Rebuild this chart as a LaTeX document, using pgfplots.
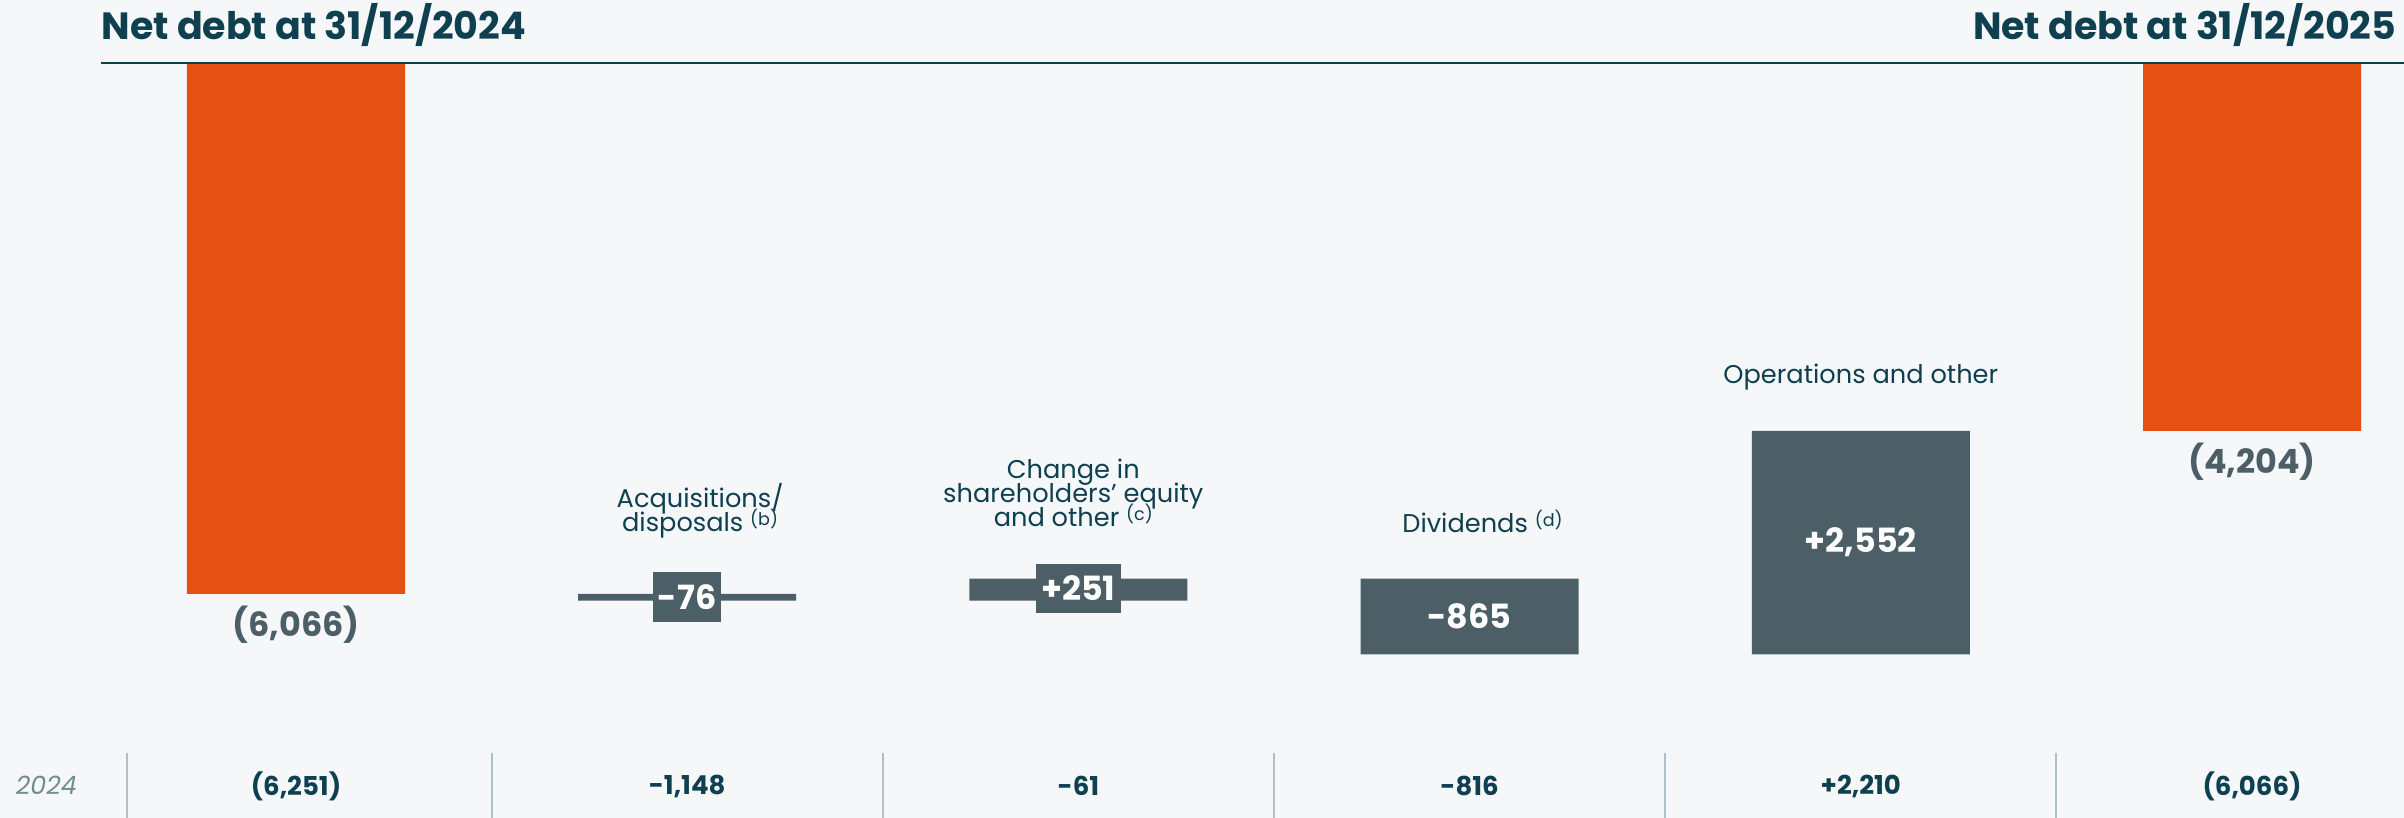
\documentclass[border=0pt]{standalone}
\usepackage{fontspec}
\setmainfont{Poppins}
\usepackage{pgfplots}
\pgfplotsset{compat=1.18}
\definecolor{bgc}{HTML}{F5F7F9}
\definecolor{orng}{HTML}{E55013}
\definecolor{slate}{HTML}{4C5F66}
\definecolor{dteal}{HTML}{0E4050}
\definecolor{sepc}{HTML}{AFC0C8}
\definecolor{yrc}{HTML}{718B91}
\newcommand\lblfont{\fontsize{7.3}{6.9}\selectfont\lineskiplimit=-20pt\lineskip=0pt}
\newcommand\note[1]{\raisebox{1.9pt}{\fontsize{5}{5}\selectfont(#1)}}
\begin{document}
\begin{tikzpicture}
\fill[bgc] (0,0) rectangle (240.4mm,81.8mm);
\begin{axis}[
  at={(0,0)}, anchor=south west,
  width=240.4mm, height=81.8mm, scale only axis,
  xmin=-0.7566, xmax=5.3885, ymin=-8625, ymax=719.7,
  axis lines=none, xtick=\empty, ytick=\empty, clip=false,
  ybar stacked, bar width=0.5573,
]
% invisible base of the floating bars
\addplot[draw=none, fill=none, forget plot] coordinates {(0,0) (1,-6066) (2,-5891) (3,-5891) (4,-4204) (5,0)};
% net debt (orange)
\addplot[draw=none, fill=orng] coordinates {(0,-6066) (1,0) (2,0) (3,0) (4,0) (5,-4204)};
% variations (slate)
\addplot[draw=none, fill=slate] coordinates {(0,0) (1,-76) (2,-251) (3,-865) (4,-2552) (5,0)};

% anchor points for the annotations (drawn after the axis, on top of the bars)
\coordinate (ruleL) at (axis cs:-0.4985,0);
\coordinate (ruleR) at (axis cs:5.3885,0);
\coordinate (titL) at (axis cs:-0.4985,263);
\coordinate (titR) at (axis cs:5.3707,263);
\coordinate (endA) at (axis cs:0,-6420);
\coordinate (endB) at (axis cs:5,-4558);
\coordinate (v1) at (axis cs:1,-6100);
\coordinate (v2) at (axis cs:2,-6003);
\coordinate (v3) at (axis cs:3,-6323);
\coordinate (v4) at (axis cs:4,-5480);
\coordinate (c1) at (axis cs:1.033,-5440);
\coordinate (c2) at (axis cs:1.987,-5310);
\coordinate (c3) at (axis cs:3.033,-5369);
\coordinate (c4) at (axis cs:4.0,-3656);
\coordinate (yr) at (axis cs:-0.638,-8248);
\coordinate (s0t) at (axis cs:-0.432,-7882); \coordinate (s0b) at (axis cs:-0.432,-8625);
\coordinate (s1t) at (axis cs:0.5,-7882);   \coordinate (s1b) at (axis cs:0.5,-8625);
\coordinate (s2t) at (axis cs:1.5,-7882);   \coordinate (s2b) at (axis cs:1.5,-8625);
\coordinate (s3t) at (axis cs:2.5,-7882);   \coordinate (s3b) at (axis cs:2.5,-8625);
\coordinate (s4t) at (axis cs:3.5,-7882);   \coordinate (s4b) at (axis cs:3.5,-8625);
\coordinate (s5t) at (axis cs:4.5,-7882);   \coordinate (s5b) at (axis cs:4.5,-8625);
\coordinate (b0) at (axis cs:0,-8260);
\coordinate (b1) at (axis cs:1,-8260);
\coordinate (b2) at (axis cs:2,-8260);
\coordinate (b3) at (axis cs:3,-8260);
\coordinate (b4) at (axis cs:4,-8260);
\coordinate (b5) at (axis cs:5,-8260);
\end{axis}

% top rule and titles
\draw[dteal, line width=0.22mm] (ruleL) -- (ruleR);
\node[anchor=base west, inner sep=0, text=dteal, font=\bfseries\fontsize{10.8}{12}\selectfont] at (titL) {Net debt at 31/12/2024};
\node[anchor=base east, inner sep=0, text=dteal, font=\bfseries\fontsize{10.8}{12}\selectfont] at (titR) {Net debt at 31/12/2025};

% end values
\node[text=slate, inner sep=0, font=\bfseries\fontsize{9.5}{12}\selectfont] at (endA) {(6,066)};
\node[text=slate, inner sep=0, font=\bfseries\fontsize{9.5}{12}\selectfont] at (endB) {(4,204)};

% variation values
\node[fill=slate, text=white, inner xsep=0.45mm, inner ysep=0, minimum height=5mm, font=\bfseries\fontsize{9.5}{10}\selectfont] at (v1) {-76};
\node[fill=slate, text=white, inner xsep=0.55mm, inner ysep=0, minimum height=4.9mm, font=\bfseries\fontsize{9.5}{10}\selectfont] at (v2) {+251};
\node[text=white, inner sep=0, font=\bfseries\fontsize{9.5}{10}\selectfont] at (v3) {-865};
\node[text=white, inner sep=0, font=\bfseries\fontsize{9.5}{10}\selectfont] at (v4) {+2,552};

% category labels
\node[anchor=south, align=center, inner sep=0, text=dteal, font=\lblfont] at (c1) {Acquisitions/\\disposals \note{b}};
\node[anchor=south, align=center, inner sep=0, text=dteal, font=\lblfont] at (c2) {Change in\\shareholders' equity\\and other \note{c}};
\node[anchor=base, inner sep=0, text=dteal, font=\lblfont] at (c3) {Dividends \note{d}};
\node[anchor=base, inner sep=0, text=dteal, font=\lblfont] at (c4) {Operations and other};

% bottom row (2024 comparatives)
\node[text=yrc, inner sep=0, font=\itshape\fontsize{7.2}{8}\selectfont] at (yr) {2024};
\foreach \s in {0,...,5} {\draw[sepc, line width=0.2mm] (s\s t) -- (s\s b);}
\node[text=dteal, inner sep=0, font=\bfseries\fontsize{7.4}{8}\selectfont] at (b0) {(6,251)};
\node[text=dteal, inner sep=0, font=\bfseries\fontsize{7.4}{8}\selectfont] at (b1) {-1,148};
\node[text=dteal, inner sep=0, font=\bfseries\fontsize{7.4}{8}\selectfont] at (b2) {-61};
\node[text=dteal, inner sep=0, font=\bfseries\fontsize{7.4}{8}\selectfont] at (b3) {-816};
\node[text=dteal, inner sep=0, font=\bfseries\fontsize{7.4}{8}\selectfont] at (b4) {+2,210};
\node[text=dteal, inner sep=0, font=\bfseries\fontsize{7.4}{8}\selectfont] at (b5) {(6,066)};

\pgfresetboundingbox
\path (0,0) rectangle (240.4mm,81.8mm);
\end{tikzpicture}
\end{document}
